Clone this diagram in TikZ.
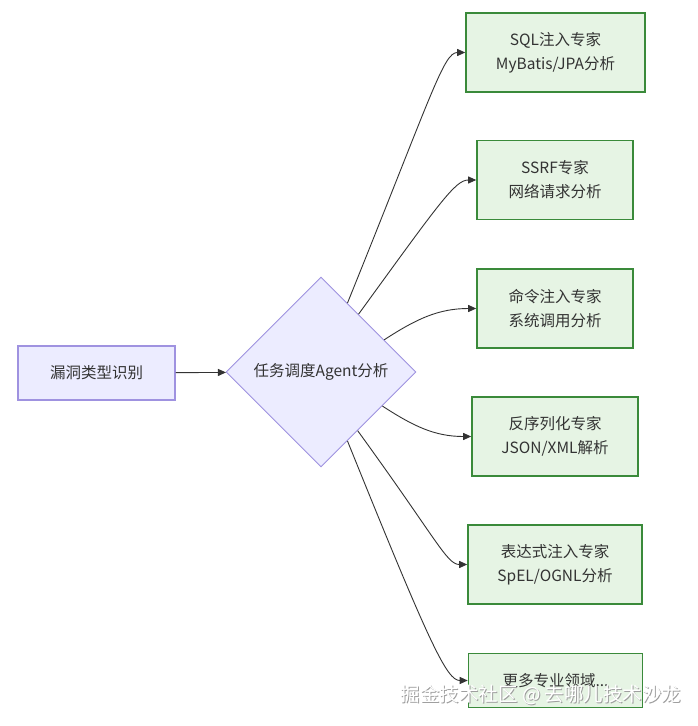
\documentclass[tikz,border=0pt]{standalone}
\usepackage{fontspec}
\setmainfont{Noto Sans CJK SC}
\usetikzlibrary{shapes.geometric, arrows.meta}
\definecolor{purpfill}{HTML}{ECECFF}
\definecolor{purpline}{HTML}{9F92E0}
\definecolor{greenfill}{HTML}{E6F4E4}
\definecolor{greenline}{HTML}{3A8A3A}
\definecolor{ink}{HTML}{333333}

\begin{document}
\begin{tikzpicture}[x=1pt, y=-1pt,
    every node/.style={font=\fontsize{15.5}{24}\selectfont, text=ink, align=center, inner sep=0pt},
    start/.style={draw=purpline, fill=purpfill, line width=1.5pt, minimum width=157pt, minimum height=54pt},
    decide/.style={diamond, draw=purpline, fill=purpfill, line width=0.9pt, minimum size=190pt},
    expert/.style={draw=greenline, fill=greenfill, line width=1.6pt, minimum height=79pt},
    link/.style={draw=ink, line width=0.9pt, -{Triangle[length=8pt, width=7pt]}}]
      \useasboundingbox (0,0) rectangle (697,726);

      \node[start] (kind) at (96.5,373) {漏洞类型识别};
      \node[decide] (task) at (321,372) {任务调度Agent分析};

      \node[expert, minimum width=179pt] (1) at (555.5,52.5) {SQL注入专家\\MyBatis/JPA分析};
      \node[expert, minimum width=156pt] (2) at (555,180) {SSRF专家\\网络请求分析};
      \node[expert, minimum width=156pt] (3) at (555,308.5) {命令注入专家\\系统调用分析};
      \node[expert, minimum width=166pt] (4) at (555,436.5) {反序列化专家\\JSON/XML解析};
      \node[expert, minimum width=174pt] (5) at (555,564.5) {表达式注入专家\\SpEL/OGNL分析};
      \node[expert, minimum width=174pt, minimum height=54pt] (6) at (555.5,680.5) {更多专业领域...};

      \draw[link] (kind) -- (task);

      \foreach \a/\o/\lo/\li [count=\xi] in {69/68/2.1/0.2, 57/54/2.0/0.3, 27/33/1.0/1.0,
                                            -29/-33/1.0/1.0, -58/-54/2.0/0.3, -69/-68/2.1/0.2} {
        \draw[link] (task.\a) to[out=\o, in=180, out looseness=\lo, in looseness=\li] (\xi.west);
      }

      % watermark
      \node[text=gray!75, font=\fontsize{19.5}{22}\selectfont] (mark shadow) at (542,696) {掘金技术社区 @ 去哪儿技术沙龙};
      \node[text=white, font=\fontsize{19.5}{22}\selectfont] (mark) at (541,695) {掘金技术社区 @ 去哪儿技术沙龙};
    \end{tikzpicture}
\end{document}
